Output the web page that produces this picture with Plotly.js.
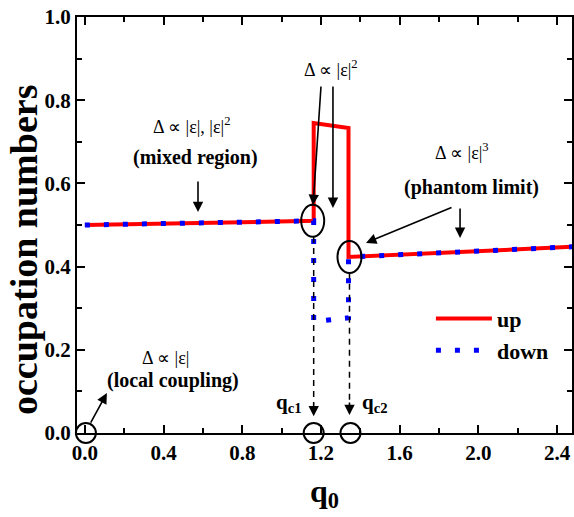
<!DOCTYPE html>
<html>
<head>
<meta charset="utf-8">
<script src="https://cdn.plot.ly/plotly-3.0.1.min.js"></script>
<style>html,body{margin:0;padding:0;background:#fff;}#chart{width:574px;height:517px;}</style>
</head>
<body>
<div id="chart"></div>
<script>
// ---- data ----
const qc1 = 1.163;
const qc2 = 1.34;
const upQ   = [0.0, qc1, qc1, qc2, qc2, 2.5];
const upN   = [0.500, 0.510, 0.745, 0.733, 0.423, 0.448];
const downQ = [0.0, qc1, qc1, qc2, qc2, 2.5];
const downN = [0.500, 0.510, 0.268, 0.277, 0.423, 0.448];
const xTicks = [0.0, 0.4, 0.8, 1.2, 1.6, 2.0, 2.4];
const yTicks = [0.0, 0.2, 0.4, 0.6, 0.8, 1.0];
const xTickText = xTicks.map(v => '<b>' + v.toFixed(1) + '</b>');
const yTickText = yTicks.map(v => '<b>' + v.toFixed(1) + '</b>');

const F = 'Liberation Serif, Times New Roman, serif';

const traces = [
  {x: upQ, y: upN, mode: 'lines', name: '<b>up</b>', line: {color: '#ff0000', width: 4}},
  {x: downQ, y: downN, mode: 'lines', name: '<b>down</b>', line: {color: '#0000ff', width: 5, dash: '5px,14px'}}
];

function txt(x, y, text, size, bold) {
  return {x: x, y: y, xref: 'x', yref: 'y', text: bold ? '<b>' + text + '</b>' : text,
    showarrow: false, font: {family: F, size: size, color: '#000'}};
}
function arr(x, y, ax, ay) {
  return {x: x, y: y, xref: 'x', yref: 'y', text: '', showarrow: true, ax: ax, ay: ay,
    arrowhead: 2, arrowsize: 1.3, arrowwidth: 1.6, arrowcolor: '#000'};
}
function circ(xref, x, yref, y, rx, ry) {
  return {type: 'circle', xref: xref, yref: yref, xsizemode: 'pixel', ysizemode: 'pixel',
    xanchor: x, yanchor: y, x0: -rx, x1: rx, y0: -ry, y1: ry,
    line: {color: '#000', width: 2}};
}
function dash(x, y0, y1) {
  return {type: 'line', xref: 'x', yref: 'y', x0: x, x1: x, y0: y0, y1: y1,
    line: {color: '#000', width: 1.5, dash: '6px,5px'}};
}

const annotations = [
  {x: -0.107, y: 0.44, xref: 'paper', yref: 'paper', xanchor: 'center', yanchor: 'middle',
   text: '<b>occupation numbers</b>', textangle: -90, showarrow: false,
   font: {family: F, size: 38, color: '#000'}},
  txt(1.251, 0.876, 'Δ ∝ |ε|<sup>2</sup>', 18, false),
  arr(qc1 - 0.003, 0.548, 8, -120),
  arr(1.261, 0.541, 0, -123),
  txt(0.544, 0.740, 'Δ ∝ |ε|, |ε|<sup>2</sup>', 18, false),
  txt(0.564, 0.663, '(mixed region)', 20, true),
  arr(0.575, 0.531, 0, -32),
  txt(1.917, 0.676, 'Δ ∝ |ε|<sup>3</sup>', 18, false),
  txt(1.967, 0.591, '(phantom limit)', 20, true),
  arr(1.907, 0.469, 0, -31),
  arr(1.429, 0.457, 87, -36),
  txt(0.412, 0.180, 'Δ ∝ |ε|', 18, false),
  txt(0.447, 0.127, '(local coupling)', 20, true),
  arr(0.112, 0.096, -17, 31),
  txt(1.037, 0.072, 'q<sub>c1</sub>', 21, true),
  txt(1.475, 0.072, 'q<sub>c2</sub>', 21, true),
  arr(qc1, 0.040, 0, -14),
  arr(qc2 + 0.005, 0.043, 0, -14)
];

const shapes = [
  circ('paper', 0.018, 'paper', 0, 10, 10),
  circ('x', qc1, 'paper', 0, 10, 10),
  circ('x', qc2 + 0.01, 'paper', 0, 10, 10),
  circ('x', qc1 - 0.005, 'y', 0.51, 11.5, 16),
  circ('x', qc2 + 0.005, 'y', 0.423, 12, 16),
  dash(qc1, 0.471, 0.07),
  dash(qc2 + 0.005, 0.385, 0.075)
];

const axisCommon = {
  showline: true, linecolor: '#000', linewidth: 2, mirror: 'ticks',
  ticks: 'inside', ticklen: 8, tickwidth: 2, tickcolor: '#000',
  showgrid: false, zeroline: false,
  tickfont: {family: F, size: 21, color: '#000'},
  tickmode: 'array'
};

const layout = {
  width: 574, height: 517,
  margin: {l: 77, r: 2, t: 17, b: 84},
  paper_bgcolor: '#fff', plot_bgcolor: '#fff',
  showlegend: true,
  legend: {x: 0.715, y: 0.325, xanchor: 'left', yanchor: 'top', bgcolor: 'rgba(0,0,0,0)',
    font: {family: F, size: 22, color: '#000'}, itemwidth: 56, tracegroupgap: 0},
  xaxis: Object.assign({}, axisCommon, {
    range: [-0.04, 2.476], tickvals: xTicks, ticktext: xTickText,
    minor: {dtick: 0.2, tick0: 0, ticks: 'inside', ticklen: 5, tickwidth: 2, tickcolor: '#000'},
    title: {text: '<b>q<sub>0</sub></b>', font: {family: F, size: 32, color: '#000'}, standoff: 15}
  }),
  yaxis: Object.assign({}, axisCommon, {
    range: [0, 1.0], tickvals: yTicks, ticktext: yTickText,
    minor: {dtick: 0.1, tick0: 0, ticks: 'inside', ticklen: 5, tickwidth: 2, tickcolor: '#000'}
  }),
  annotations: annotations,
  shapes: shapes
};

Plotly.newPlot('chart', traces, layout, {displayModeBar: false, staticPlot: true});
</script>
</body>
</html>
